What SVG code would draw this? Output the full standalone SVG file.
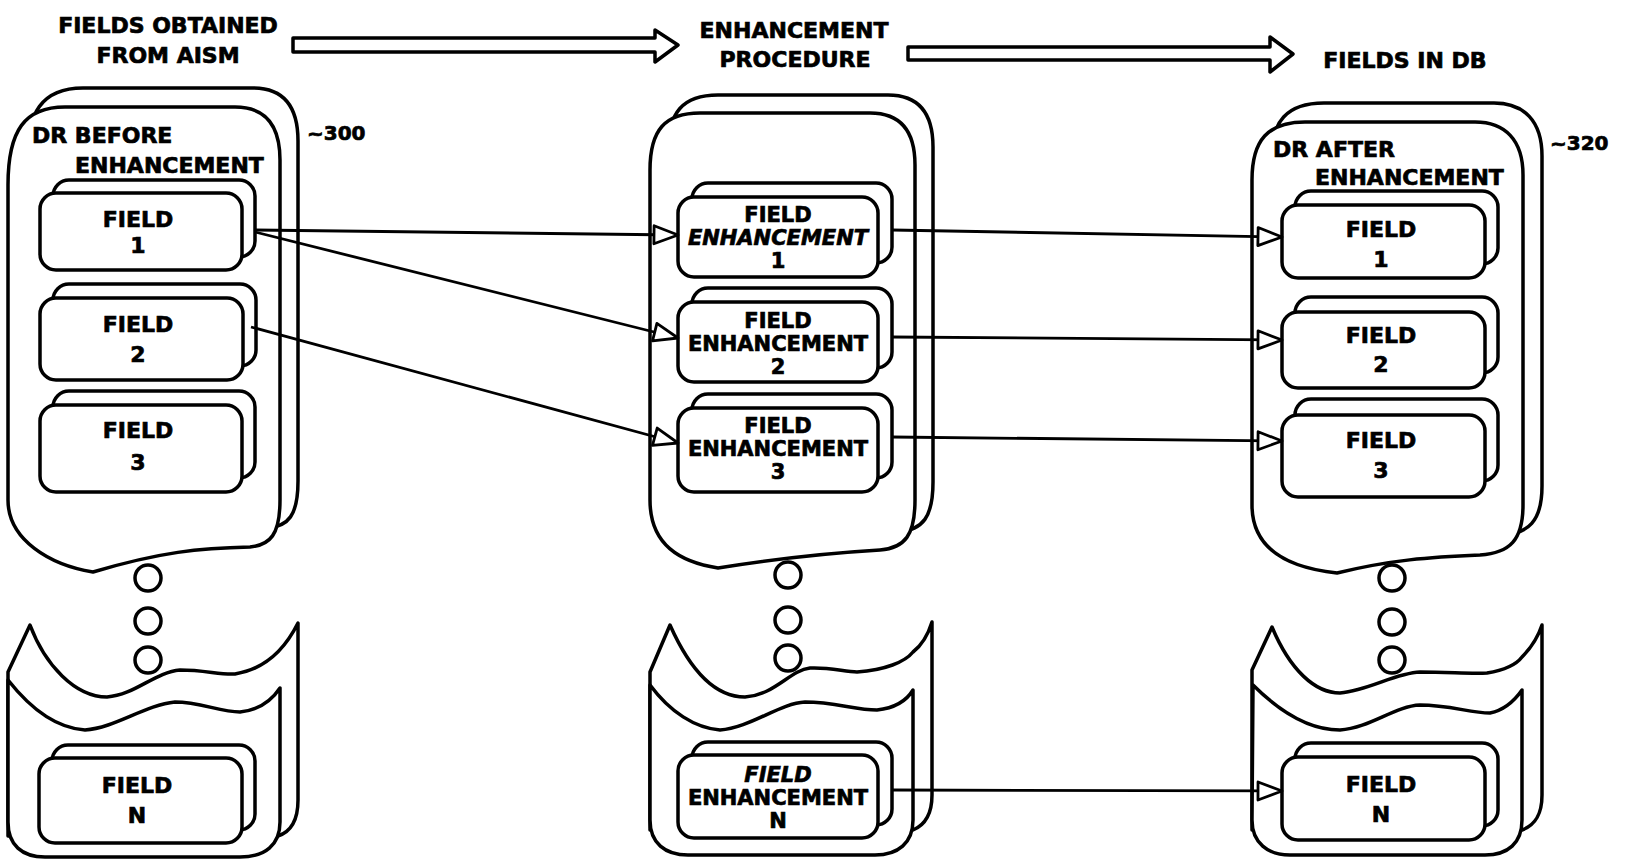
<svg xmlns="http://www.w3.org/2000/svg" xmlns:xlink="http://www.w3.org/1999/xlink" width="1627" height="862" viewBox="0 0 1627 862">
<style>
.s{fill:#fff;stroke:#000;stroke-width:3.5;stroke-linejoin:round}
.t{font-family:"DejaVu Sans","Liberation Sans",sans-serif;font-weight:bold;font-size:22px;text-anchor:middle;fill:#000;stroke:#000;stroke-width:0.7}
.m{font-size:21px}
.l{text-anchor:start}
.i{font-style:italic}
.c{stroke:#000;stroke-width:2.8;fill:none;marker-end:url(#ah)}
.d{fill:#fff;stroke:#000;stroke-width:3.5}
</style>
<defs>
<marker id="ah" markerUnits="userSpaceOnUse" markerWidth="30" markerHeight="26" refX="26" refY="11" orient="auto">
<path d="M2,2 L26,11 L2,20 Z" fill="#fff" stroke="#000" stroke-width="2.8" stroke-linejoin="round"/>
</marker>
<path id="topL" d="M8,500 L8,185 C8,130 25,107 65,107 L235,107 C265,107 280,125 280,160 L280,500 C280,535 270,545 250,547 C200,548 160,552 93,572 C50,565 8,540 8,500 Z"/>
<path id="topM" d="M650,500 L650,170 C650,130 665,113 700,113 L870,113 C900,113 915,130 915,165 L915,500 C915,535 905,548 880,550 C830,553 780,558 718,568 C680,562 650,545 650,500 Z"/>
<path id="topR" d="M1252,505 L1252,180 C1252,140 1268,122 1305,122 L1475,122 C1505,122 1523,140 1523,175 L1523,505 C1523,540 1510,553 1480,555 C1430,557 1390,560 1337,573 C1290,568 1252,550 1252,505 Z"/>
</defs>
<rect width="1627" height="862" fill="#fff"/>

<g id="header-fields-obtained">
<text class="t" x="168" y="33">FIELDS OBTAINED</text>
<text class="t" x="168" y="63">FROM AISM</text>
</g>
<g id="header-arrow-1">
<path class="s" d="M293,38 L655,38 L655,30 L678,45 L655,62 L655,52 L293,52 Z"/>
</g>
<g id="header-enhancement-procedure">
<text class="t" x="794" y="38">ENHANCEMENT</text>
<text class="t" x="795" y="67">PROCEDURE</text>
</g>
<g id="header-arrow-2">
<path class="s" d="M908,47 L1270,47 L1270,37 L1293,54 L1270,72 L1270,60 L908,60 Z"/>
</g>
<g id="header-fields-in-db">
<text class="t" x="1405" y="68">FIELDS IN DB</text>
</g>

<g id="dr-before">
<use xlink:href="#topL" class="s" transform="translate(18,-19)"/>
<use xlink:href="#topL" class="s"/>
<text class="t l" x="32" y="143">DR BEFORE</text>
<text class="t l" x="75" y="173">ENHANCEMENT</text>
<text class="t l" x="307" y="140" style="font-size:20px">~300</text>
</g>
<g id="dr-before-bottom">
<path class="s" d="M30,625 C45,665 75,697 107,697 C135,695 155,672 180,670 C205,670 220,675 235,674 C260,670 282,655 298,623 L298,800 C298,822 290,832 278,836 L8,836 L8,672 Z"/>
<path class="s" d="M8,680 C30,708 55,728 85,730 C115,728 145,705 175,702 C200,702 220,712 240,712 C260,710 272,700 280,688 L280,822 C280,845 265,857 240,857 L45,857 C22,857 8,845 8,822 Z"/>
</g>
<g id="dots-left">
<circle class="d" cx="148" cy="578" r="13"/>
<circle class="d" cx="148" cy="621" r="13"/>
<circle class="d" cx="148" cy="660" r="13"/>
</g>

<g id="enh-procedure">
<use xlink:href="#topM" class="s" transform="translate(18,-18)"/>
<use xlink:href="#topM" class="s"/>
</g>
<g id="enh-procedure-bottom">
<path class="s" d="M670,625 C690,670 715,697 745,697 C775,695 790,670 810,668 C830,667 845,672 857,672 C885,670 905,662 913,652 C922,645 928,635 932,622 L932,795 C932,815 925,825 913,830 L650,830 L650,672 Z"/>
<path class="s" d="M650,685 C670,712 695,728 720,730 C750,728 780,703 805,702 C835,702 855,710 877,710 C895,708 907,700 913,690 L913,820 C913,843 898,855 875,855 L688,855 C665,855 650,843 650,820 Z"/>
</g>
<g id="dots-middle">
<circle class="d" cx="788" cy="575" r="13"/>
<circle class="d" cx="788" cy="620" r="13"/>
<circle class="d" cx="788" cy="658" r="13"/>
</g>

<g id="dr-after">
<use xlink:href="#topR" class="s" transform="translate(19,-19)"/>
<use xlink:href="#topR" class="s"/>
<text class="t l" x="1273" y="157">DR AFTER</text>
<text class="t l" x="1315" y="185">ENHANCEMENT</text>
<text class="t l" x="1550" y="150" style="font-size:20px">~320</text>
</g>
<g id="dr-after-bottom">
<path class="s" d="M1272,627 C1290,670 1315,693 1340,693 C1370,690 1395,673 1420,672 C1450,672 1470,674 1487,673 C1505,670 1516,665 1522,657 C1532,647 1538,637 1542,625 L1542,795 C1542,815 1535,825 1522,830 L1252,830 L1252,670 Z"/>
<path class="s" d="M1253,685 C1280,712 1310,730 1340,730 C1370,728 1395,706 1420,705 C1450,705 1470,713 1490,713 C1505,710 1515,700 1522,690 L1522,820 C1522,843 1508,855 1485,855 L1290,855 C1268,855 1252,843 1252,820 Z"/>
</g>
<g id="dots-right">
<circle class="d" cx="1392" cy="578" r="13"/>
<circle class="d" cx="1392" cy="622" r="13"/>
<circle class="d" cx="1392" cy="660" r="13"/>
</g>

<g id="field-1-before">
<rect class="s" x="53" y="180" width="202" height="77" rx="16"/>
<rect class="s" x="40" y="193" width="202" height="77" rx="16"/>
<text class="t" x="138" y="227">FIELD</text><text class="t" x="138" y="253">1</text>
</g>
<g id="field-2-before">
<rect class="s" x="53" y="284" width="203" height="82" rx="16"/>
<rect class="s" x="40" y="298" width="203" height="82" rx="16"/>
<text class="t" x="138" y="332">FIELD</text><text class="t" x="138" y="362">2</text>
</g>
<g id="field-3-before">
<rect class="s" x="53" y="391" width="202" height="87" rx="16"/>
<rect class="s" x="40" y="405" width="202" height="87" rx="16"/>
<text class="t" x="138" y="438">FIELD</text><text class="t" x="138" y="470">3</text>
</g>
<g id="field-n-before">
<rect class="s" x="52" y="745" width="203" height="85" rx="16"/>
<rect class="s" x="39" y="758" width="203" height="85" rx="16"/>
<text class="t" x="137" y="793">FIELD</text><text class="t" x="137" y="823">N</text>
</g>

<g id="field-enh-1">
<rect class="s" x="692" y="183" width="200" height="80" rx="16"/>
<rect class="s" x="678" y="197" width="200" height="80" rx="16"/>
<text class="t m" x="778" y="222">FIELD</text><text class="t m i" x="778" y="245">ENHANCEMENT</text><text class="t m" x="778" y="268">1</text>
</g>
<g id="field-enh-2">
<rect class="s" x="692" y="288" width="200" height="80" rx="16"/>
<rect class="s" x="678" y="302" width="200" height="80" rx="16"/>
<text class="t m" x="778" y="328">FIELD</text><text class="t m" x="778" y="351">ENHANCEMENT</text><text class="t m" x="778" y="374">2</text>
</g>
<g id="field-enh-3">
<rect class="s" x="692" y="394" width="200" height="84" rx="16"/>
<rect class="s" x="678" y="408" width="200" height="84" rx="16"/>
<text class="t m" x="778" y="433">FIELD</text><text class="t m" x="778" y="456">ENHANCEMENT</text><text class="t m" x="778" y="479">3</text>
</g>
<g id="field-enh-n">
<rect class="s" x="692" y="742" width="200" height="83" rx="16"/>
<rect class="s" x="678" y="755" width="200" height="83" rx="16"/>
<text class="t m i" x="778" y="782">FIELD</text><text class="t m" x="778" y="805">ENHANCEMENT</text><text class="t m" x="778" y="828">N</text>
</g>

<g id="field-1-after">
<rect class="s" x="1295" y="191" width="203" height="73" rx="16"/>
<rect class="s" x="1282" y="205" width="203" height="73" rx="16"/>
<text class="t" x="1381" y="237">FIELD</text><text class="t" x="1381" y="267">1</text>
</g>
<g id="field-2-after">
<rect class="s" x="1295" y="297" width="203" height="76" rx="16"/>
<rect class="s" x="1282" y="312" width="203" height="76" rx="16"/>
<text class="t" x="1381" y="343">FIELD</text><text class="t" x="1381" y="372">2</text>
</g>
<g id="field-3-after">
<rect class="s" x="1295" y="399" width="203" height="82" rx="16"/>
<rect class="s" x="1282" y="415" width="203" height="82" rx="16"/>
<text class="t" x="1381" y="448">FIELD</text><text class="t" x="1381" y="478">3</text>
</g>
<g id="field-n-after">
<rect class="s" x="1295" y="743" width="203" height="83" rx="16"/>
<rect class="s" x="1282" y="757" width="203" height="83" rx="16"/>
<text class="t" x="1381" y="792">FIELD</text><text class="t" x="1381" y="822">N</text>
</g>

<g id="connectors">
<line class="c" x1="255" y1="230" x2="678" y2="235"/>
<line class="c" x1="255" y1="232" x2="678" y2="338"/>
<line class="c" x1="251" y1="327" x2="678" y2="443"/>
<line class="c" x1="892" y1="230" x2="1282" y2="237"/>
<line class="c" x1="892" y1="337" x2="1282" y2="340"/>
<line class="c" x1="892" y1="437" x2="1282" y2="441"/>
<line class="c" x1="892" y1="790" x2="1282" y2="791"/>
</g>
</svg>
